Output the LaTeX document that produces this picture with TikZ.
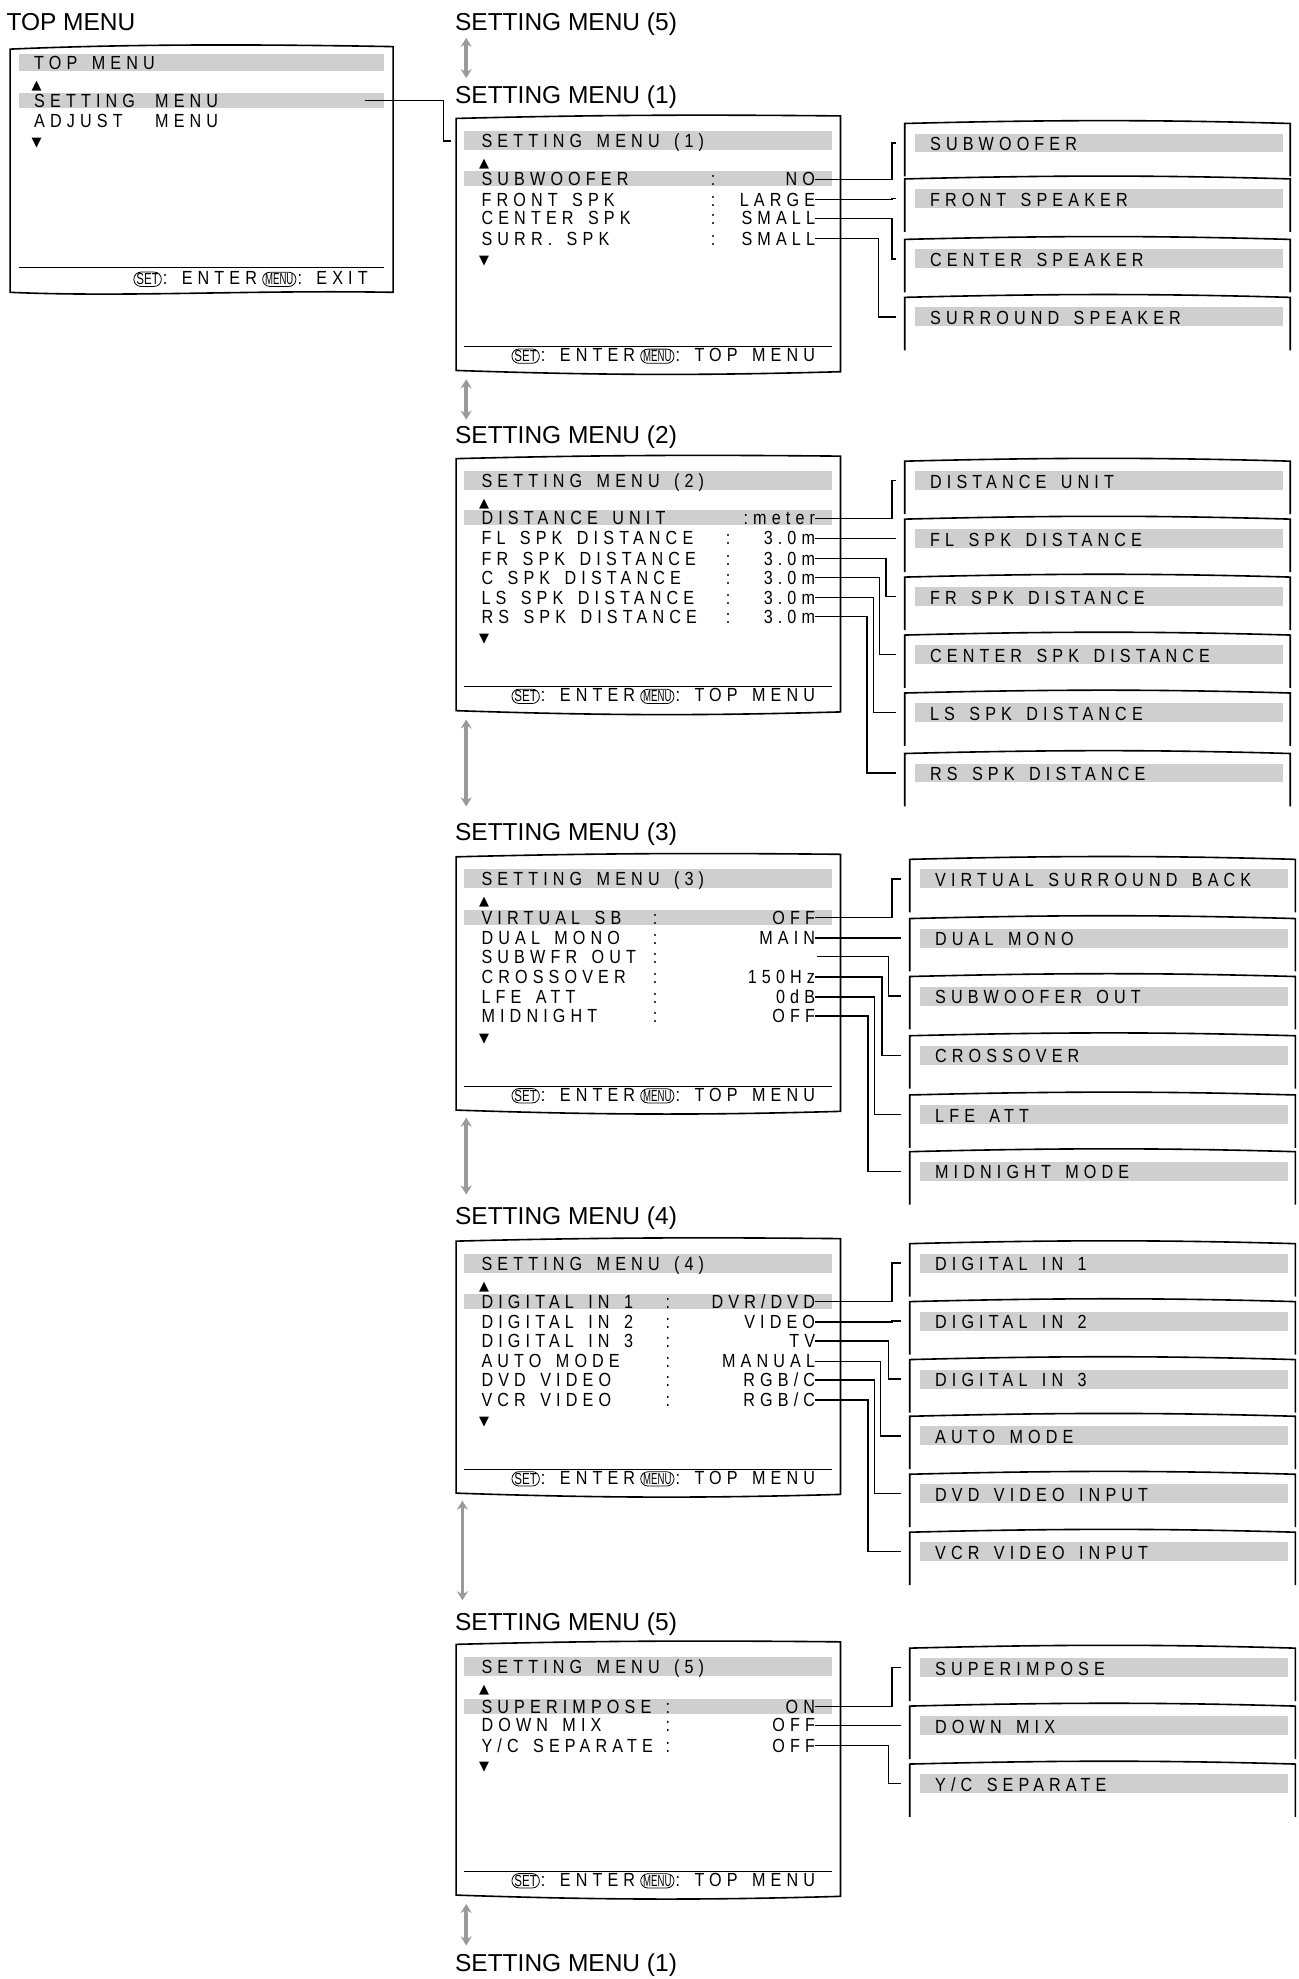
\documentclass[tikz,border=0pt]{standalone}
\usepackage{fontspec}
\setmainfont{Liberation Sans}
\newfontfamily\menufont[LetterSpace=27,FakeStretch=0.85,WordSpace=1.5]{Liberation Sans}
\newfontfamily\symfont{DejaVu Sans}
\usetikzlibrary{arrows.meta}
\definecolor{band}{HTML}{CFCFCF}
\definecolor{arr}{HTML}{9A9A9A}
\tikzset{
 frameln/.style={line width=1.6pt},
 mtxt/.style={font=\menufont\fontsize{19}{19}\selectfont, inner sep=0pt, anchor=base west},
 vtxt/.style={font=\menufont\fontsize{19}{19}\selectfont, inner sep=0pt, anchor=base east},
 ttl/.style={font=\fontsize{24.5}{25}\selectfont, inner sep=0pt, anchor=base west},
 key/.style={draw, line width=0.8pt, rounded corners=7pt, inner xsep=2.5pt, inner ysep=1.5pt, font=\fontsize{16}{16}\selectfont},
 conn/.style={line width=1.4pt},
 dbl/.style={draw=arr, line width=3.5pt, {Stealth[length=9pt,width=11pt]}-{Stealth[length=9pt,width=11pt]}},
 tri/.style={font=\symfont\fontsize{13}{13}\selectfont, inner sep=0pt, anchor=base west}
}
\newcommand\keyfoot[4]{% right x, y baseline, name, tail text
 \node[vtxt] (#3t) at (#1,#2) {:\ #4};
 \node[key, anchor=base east] (#3m) at ([xshift=-1pt]#3t.base west) {\scalebox{.6}[1]{MENU}};
 \node[vtxt] (#3e) at ([xshift=-5pt]#3m.base west) {:\ ENTER};
 \node[key, anchor=base east] (#3s) at ([xshift=-1pt]#3e.base west) {\scalebox{.72}[1]{SET}};}
\newcommand\menuframe[4]{% name, top, bottom, title
 \draw[frameln] (362,#2+2) .. controls (480,#2-1) and (560,#2-1) .. (667,#2) -- (667,#3) .. controls (560,#3+3) and (480,#3+3) .. (362,#3-1) -- cycle;
 \fill[band] (368,#2+12) rectangle (660,#2+27);
 \node[mtxt] (#1h) at (382,#2+25) {#4};
 \node[tri] at (380,#2+41) {▲};
 \draw[line width=0.8pt] (368,#3-20) -- (660,#3-20);
 \keyfoot{647}{#3-8}{#1f}{TOP MENU}}
\newcommand\mrow[5]{% name, y(center), label, colon x, value
 \node[mtxt] (#1l) at (382,#2+5.5) {#3};
 \node[mtxt] at (#4,#2+5.5) {:};
 \node[vtxt] (#1) at (647,#2+5.5) {#5};}
\newcommand\rbox[4]{% name, left x, top y, text
 \draw[frameln] (#2,#3+42) -- (#2,#3) .. controls (#2+120,#3-3) and (#2+200,#3-3) .. (#2+306,#3) -- (#2+306,#3+42);
 \fill[band] (#2+8,#3+8) rectangle (#2+300,#3+23);
 \node[mtxt] (#1) at (#2+20,#3+21.5) {#4};
 \coordinate (#1in) at (#2-7,#3+15.5);}
\newcommand\cn[3]{% from, bend x, to
 \draw[conn] (#1.east) -- (#1.east -| {#2,0}) |- (#3in);}
\begin{document}
\begin{tikzpicture}[x=1.26pt,y=-1.26pt]
\useasboundingbox (0,0) rectangle (1030.2,1570.6);
% ---------- TOP MENU
\node[ttl] (tmt) at (5,24) {TOP MENU};
\draw[frameln] (8,39) .. controls (100,35) and (200,35) .. (312,37) -- (312,232) .. controls (200,230) and (100,236) .. (8,232) -- cycle;
\fill[band] (15,43) rectangle (305,56);
\node[mtxt] at (27,55.5) {TOP MENU};
\node[tri] at (25,71) {▲};
\fill[band] (15,74) rectangle (305,86);
\node[mtxt] (tsm) at (27,85.5) {SETTING};
\node[mtxt] at (123,85.5) {MENU};
\node[mtxt] at (27,101.5) {ADJUST};
\node[mtxt] at (123,101.5) {MENU};
\node[tri] at (25,116) {▼};
\coordinate (tmo) at (290,80);
\coordinate (m1in) at (358,112);
\draw[conn] (tmo) -- (352,80) |- (m1in);
\draw[line width=0.8pt] (15,212) -- (305,212);
\keyfoot{292}{226}{tf}{EXIT}
% ---------- MENU 1
\node[ttl] at (361,24) {SETTING MENU (5)};
\coordinate (a0t) at (370,30); \coordinate (a0b) at (370,62);
\draw[dbl] (a0t) -- (a0b);
\node[ttl] at (361,82) {SETTING MENU (1)};
\fill[band] (368,136) rectangle (660,148);
\menuframe{m1}{92}{295}{SETTING MENU (1)}
\mrow{a1}{142}{SUBWOOFER}{564}{NO}
\mrow{a2}{158}{FRONT SPK}{564}{LARGE}
\mrow{a3}{173}{CENTER SPK}{564}{SMALL}
\mrow{a4}{189}{SURR. SPK}{564}{SMALL}
\node[tri] at (380,210) {▼};
\rbox{b1}{718}{98}{SUBWOOFER}
\rbox{b2}{718}{142}{FRONT SPEAKER}
\rbox{b3}{718}{190}{CENTER SPEAKER}
\rbox{b4}{718}{236}{SURROUND SPEAKER}
\cn{a1}{708}{b1}\cn{a2}{708}{b2}\cn{a3}{708}{b3}\cn{a4}{697}{b4}
% ---------- MENU 2
\coordinate (a1t) at (370,301); \coordinate (a1b) at (370,333);
\draw[dbl] (a1t) -- (a1b);
\node[ttl] at (361,352) {SETTING MENU (2)};
\fill[band] (368,405) rectangle (660,417);
\menuframe{m2}{362}{565}{SETTING MENU (2)}
\node[mtxt] (c1l) at (382,416.5) {DISTANCE UNIT};
\node[vtxt] (c1) at (647,416.5) {:meter};
\mrow{c2}{427}{FL SPK DISTANCE}{576}{3.0m}
\mrow{c3}{443}{FR SPK DISTANCE}{576}{3.0m}
\mrow{c4}{458}{C SPK DISTANCE}{576}{3.0m}
\mrow{c5}{474}{LS SPK DISTANCE}{576}{3.0m}
\mrow{c6}{489}{RS SPK DISTANCE}{576}{3.0m}
\node[tri] at (380,510) {▼};
\rbox{d1}{718}{366}{DISTANCE UNIT}
\rbox{d2}{718}{412}{FL SPK DISTANCE}
\rbox{d3}{718}{458}{FR SPK DISTANCE}
\rbox{d4}{718}{504}{CENTER SPK DISTANCE}
\rbox{d5}{718}{550}{LS SPK DISTANCE}
\rbox{d6}{718}{598}{RS SPK DISTANCE}
\cn{c1}{708}{d1}\cn{c2}{708}{d2}\cn{c3}{703}{d3}\cn{c4}{698}{d4}\cn{c5}{693}{d5}\cn{c6}{688}{d6}
% ---------- MENU 3
\coordinate (a2t) at (370,571); \coordinate (a2b) at (370,640);
\draw[dbl] (a2t) -- (a2b);
\node[ttl] at (361,667) {SETTING MENU (3)};
\fill[band] (368,722) rectangle (660,734);
\menuframe{m3}{678}{882}{SETTING MENU (3)}
\mrow{e1}{728}{VIRTUAL SB}{518}{OFF}
\mrow{e2}{744}{DUAL MONO}{518}{MAIN}
\mrow{e3l}{759}{SUBWFR OUT}{518}{}
\coordinate (e3) at (648,759);
\mrow{e4}{775}{CROSSOVER}{518}{150Hz}
\mrow{e5}{791}{LFE ATT}{518}{0dB}
\mrow{e6}{806}{MIDNIGHT}{518}{OFF}
\node[tri] at (380,827) {▼};
\rbox{f1}{722}{682}{VIRTUAL SURROUND BACK}
\rbox{f2}{722}{729}{DUAL MONO}
\rbox{f3}{722}{775}{SUBWOOFER OUT}
\rbox{f4}{722}{822}{CROSSOVER}
\rbox{f5}{722}{869}{LFE ATT}
\rbox{f6}{722}{914}{MIDNIGHT MODE}
\cn{e1}{708}{f1}\cn{e2}{708}{f2}\cn{e3}{705}{f3}\cn{e4}{700}{f4}\cn{e5}{694}{f5}\cn{e6}{689}{f6}
% ---------- MENU 4
\coordinate (a3t) at (370,887); \coordinate (a3b) at (370,948);
\draw[dbl] (a3t) -- (a3b);
\node[ttl] at (361,972) {SETTING MENU (4)};
\fill[band] (368,1027) rectangle (660,1039);
\menuframe{m4}{983}{1186}{SETTING MENU (4)}
\mrow{g1}{1033}{DIGITAL IN 1}{528}{DVR/DVD}
\mrow{g2}{1049}{DIGITAL IN 2}{528}{VIDEO}
\mrow{g3}{1064}{DIGITAL IN 3}{528}{TV}
\mrow{g4}{1080}{AUTO MODE}{528}{MANUAL}
\mrow{g5}{1095}{DVD VIDEO}{528}{RGB/C}
\mrow{g6}{1111}{VCR VIDEO}{528}{RGB/C}
\node[tri] at (380,1131) {▼};
\rbox{h1}{722}{987}{DIGITAL IN 1}
\rbox{h2}{722}{1033}{DIGITAL IN 2}
\rbox{h3}{722}{1079}{DIGITAL IN 3}
\rbox{h4}{722}{1124}{AUTO MODE}
\rbox{h5}{722}{1170}{DVD VIDEO INPUT}
\rbox{h6}{722}{1216}{VCR VIDEO INPUT}
\cn{g1}{708}{h1}\cn{g2}{708}{h2}\cn{g3}{705}{h3}\cn{g4}{699}{h4}\cn{g5}{694}{h5}\cn{g6}{689}{h6}
% ---------- MENU 5
\coordinate (a4t) at (367,1191); \coordinate (a4b) at (367,1270);
\draw[dbl] (a4t) -- (a4b);
\node[ttl] at (361,1294) {SETTING MENU (5)};
\fill[band] (368,1348) rectangle (660,1360);
\menuframe{m5}{1303}{1505}{SETTING MENU (5)}
\mrow{k1}{1354}{SUPERIMPOSE}{528}{ON}
\mrow{k2}{1369}{DOWN MIX}{528}{OFF}
\mrow{k3}{1385}{Y/C SEPARATE}{528}{OFF}
\node[tri] at (380,1405) {▼};
\rbox{n1}{722}{1308}{SUPERIMPOSE}
\rbox{n2}{722}{1354}{DOWN MIX}
\rbox{n3}{722}{1400}{Y/C SEPARATE}
\cn{k1}{708}{n1}\cn{k2}{708}{n2}\cn{k3}{705}{n3}
\coordinate (a5t) at (370,1511); \coordinate (a5b) at (370,1544);
\draw[dbl] (a5t) -- (a5b);
\node[ttl] at (361,1565) {SETTING MENU (1)};
\end{tikzpicture}
\end{document}
